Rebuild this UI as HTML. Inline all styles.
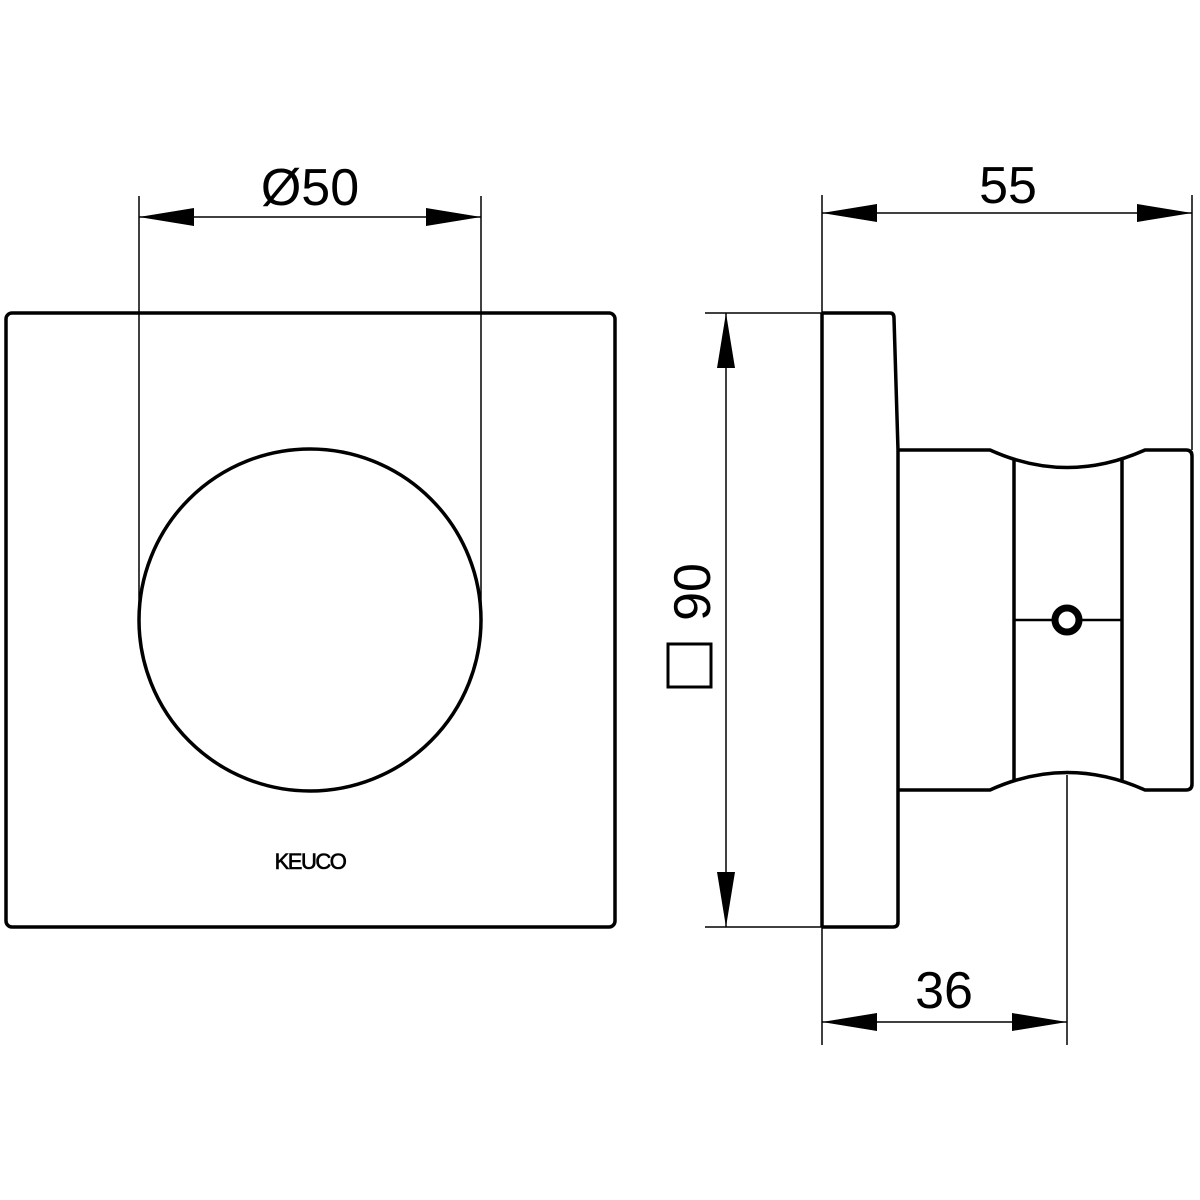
<!DOCTYPE html>
<html><head><style>body{margin:0;background:#fff}svg{display:block}</style></head><body>
<svg width="1200" height="1200" viewBox="0 0 1200 1200" xmlns="http://www.w3.org/2000/svg">
<rect width="1200" height="1200" fill="#fff"/>
<g fill="none" stroke="#000" stroke-width="3.5" stroke-linejoin="round">
<rect x="6" y="313" width="609" height="614" rx="6"/>
<circle cx="310" cy="620" r="171"/>
<path d="M822 313 L890 313 Q894 313 894 318 L898 450 L898 922 Q898 927 893 927 L822 927"/>
<line x1="822" y1="313" x2="822" y2="927"/>
<path d="M898 450 L990 450 Q1067 485 1145 450 L1186 450 Q1192 450 1192 456 L1192 784 Q1192 790 1186 790 L1145 790 Q1067 755 990 790 L898 790"/>
<line x1="1014" y1="460" x2="1014" y2="780"/>
<line x1="1122" y1="460" x2="1122" y2="780"/>
<line x1="1014" y1="620" x2="1122" y2="620" stroke-width="2.5"/>
<circle cx="1067" cy="620" r="12" fill="#fff" stroke-width="7"/>
</g>
<g stroke="#000" stroke-width="1.5" fill="none">
<line x1="139" y1="196" x2="139" y2="605"/>
<line x1="481" y1="196" x2="481" y2="605"/>
<line x1="139" y1="217" x2="481" y2="217"/>
<line x1="822" y1="195" x2="822" y2="1045"/>
<line x1="1192" y1="195" x2="1192" y2="450"/>
<line x1="822" y1="213" x2="1192" y2="213"/>
<line x1="705" y1="313" x2="822" y2="313"/>
<line x1="705" y1="927" x2="822" y2="927"/>
<line x1="726" y1="313" x2="726" y2="927"/>
<line x1="1067" y1="775" x2="1067" y2="1045"/>
<line x1="822" y1="1022" x2="1067" y2="1022"/>
</g>
<g fill="#000">
<path d="M139 217 L194 208 L194 226Z"/><path d="M481 217 L426 208 L426 226Z"/>
<path d="M822 213 L877 204 L877 222Z"/><path d="M1192 213 L1137 204 L1137 222Z"/>
<path d="M726 313 L717 368 L735 368Z"/><path d="M726 927 L717 872 L735 872Z"/>
<path d="M822 1022 L877 1013 L877 1031Z"/><path d="M1067 1022 L1012 1013 L1012 1031Z"/>
</g>
<g font-family="Liberation Sans, sans-serif" fill="#000" text-anchor="middle">
<text x="310" y="205" font-size="52">Ø50</text>
<text x="1008" y="203" font-size="52">55</text>
<text x="944" y="1008" font-size="52">36</text>
<text x="310" y="869" font-size="22" letter-spacing="-1.5" stroke="#000" stroke-width="0.6">KEUCO</text>
<g transform="translate(710,620) rotate(-90)">
<text x="28" y="0" font-size="52">90</text>
</g>
</g>
<rect x="668" y="644" width="43" height="43" fill="none" stroke="#000" stroke-width="3"/>
</svg>
</body></html>
